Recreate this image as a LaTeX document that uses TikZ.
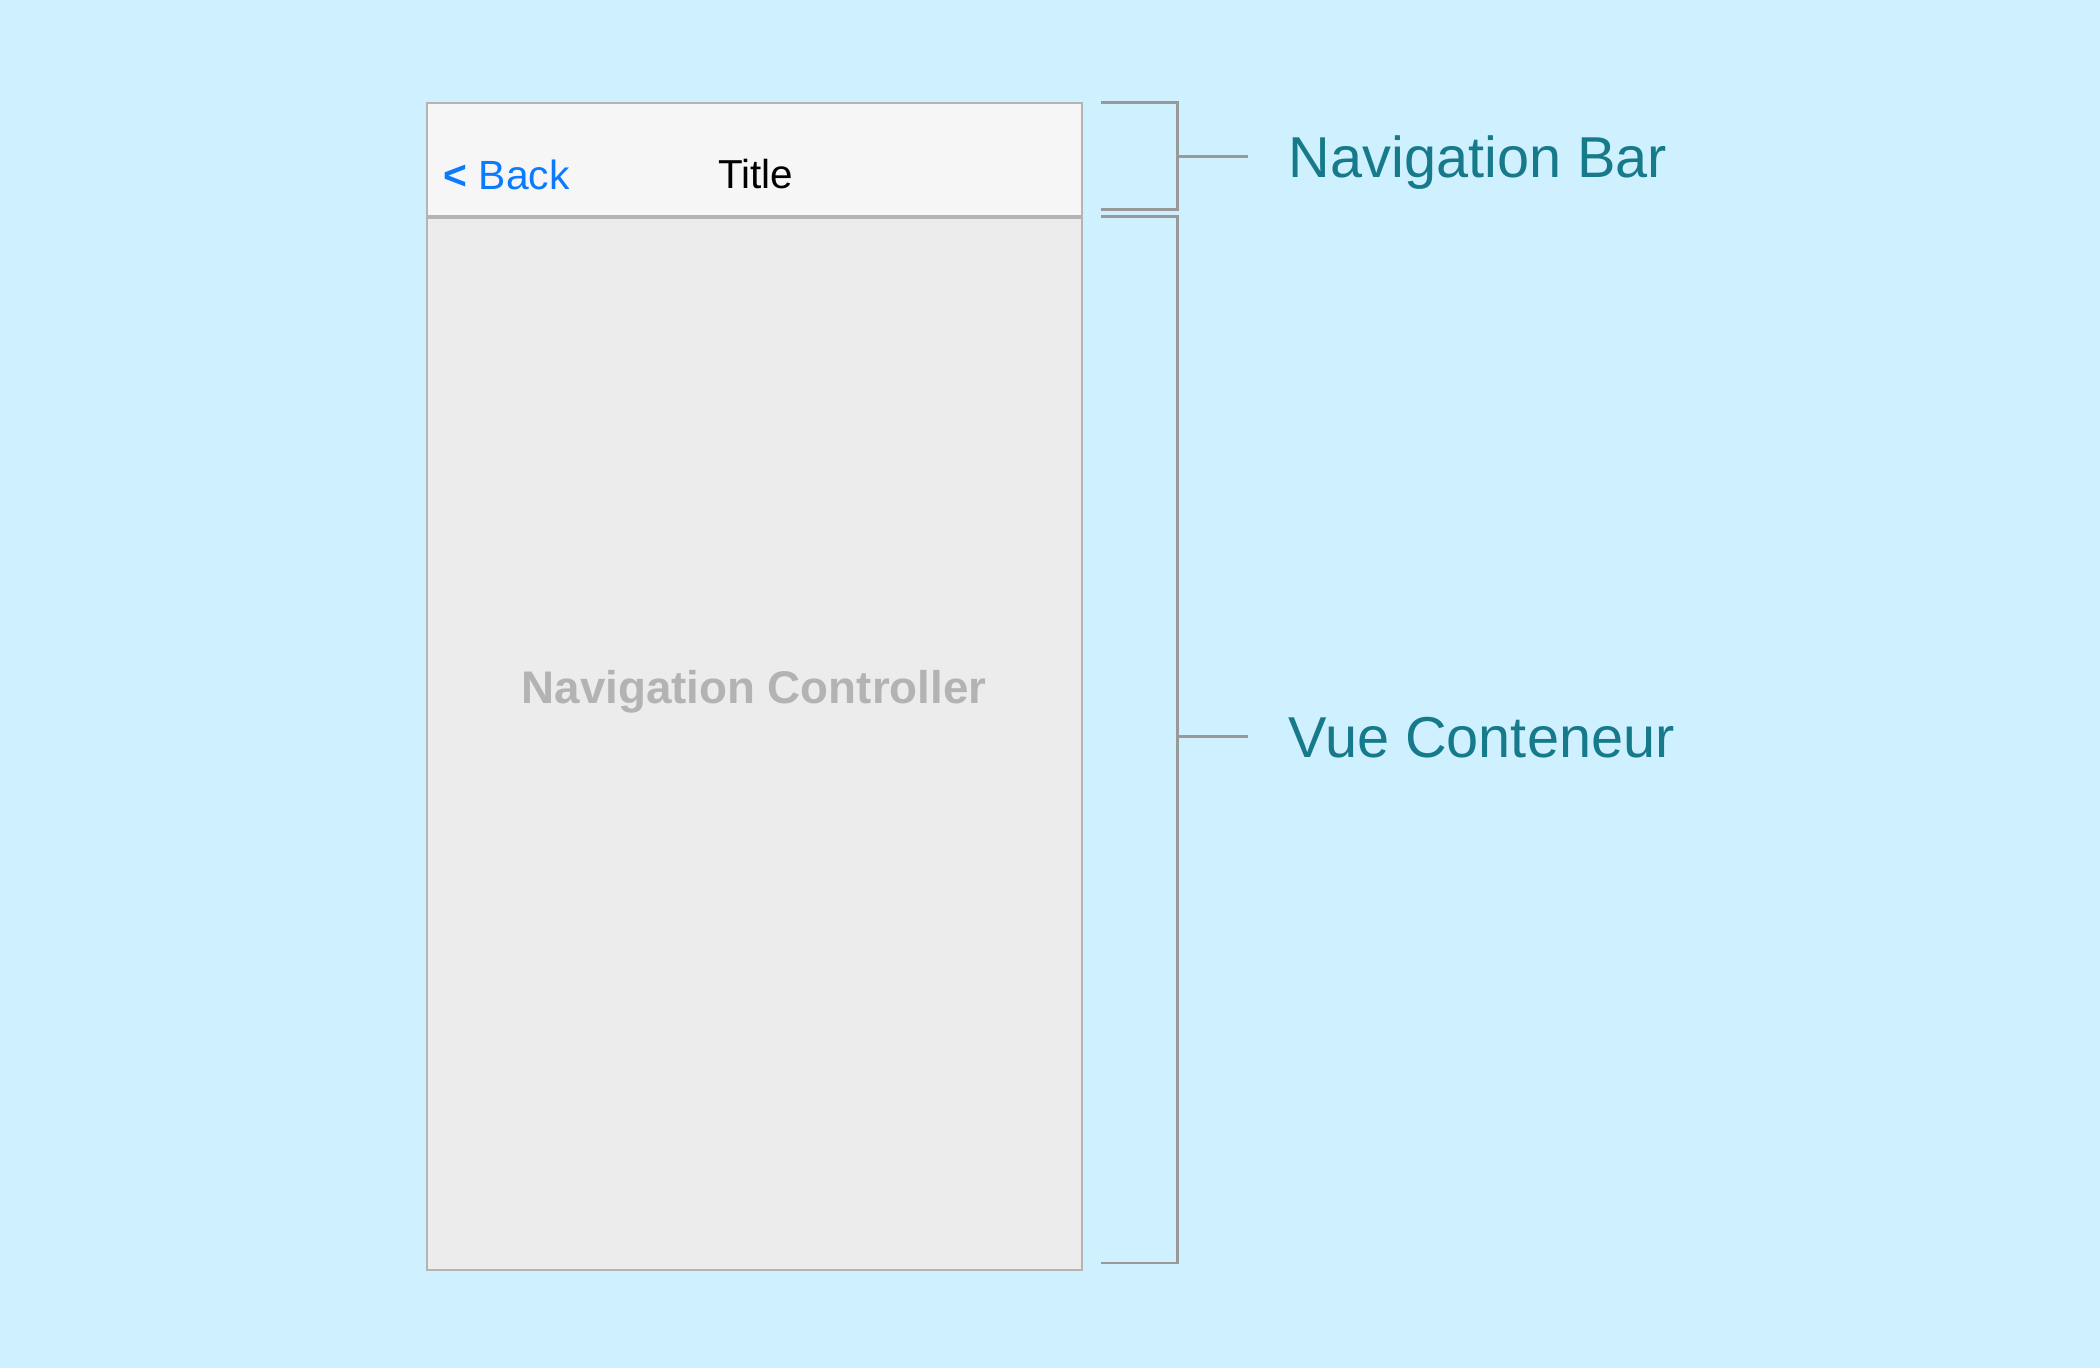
\documentclass[tikz,border=0pt]{standalone}
\usepackage{fontspec}
\setmainfont{Liberation Sans}
\usepackage{tikz}
\usetikzlibrary{positioning}
\usepackage{xcolor}
\definecolor{skyback}{RGB}{207,240,254}
\definecolor{barfill}{RGB}{246,246,246}
\definecolor{bodyfill}{RGB}{236,236,236}
\definecolor{framegray}{RGB}{180,180,180}
\definecolor{bracketgray}{RGB}{153,153,153}
\definecolor{callteal}{RGB}{23,122,138}
\definecolor{backblue}{RGB}{10,122,255}
\definecolor{hintgray}{RGB}{179,179,179}

\begin{document}
\begin{tikzpicture}[%
    x=0.01cm,
    y=-0.01cm,
    node distance=1cm,
    phonepart/.style={%
      rectangle,
      draw=framegray,
      line width=0.6pt,
      minimum width=6.55cm,
      inner sep=0pt
    },
    bracket/.style={draw=bracketgray, line width=0.85pt},
    calltext/.style={%
      inner sep=0pt,
      text=callteal,
      font=\fontsize{16.4}{19}\selectfont,
      text height=0.72em,
      text depth=0pt,
      yshift=-0.08cm
    }
  ]
    \fill[skyback] (0,0) rectangle (2100,1368);

    % phone screen
    \node[phonepart, fill=barfill, minimum height=1.13cm] (navbar) at (754.5,159.5) {};
    \node[phonepart, fill=bodyfill, minimum height=10.51cm, below=0cm of navbar] (content) {};

    \node[anchor=base west, inner sep=0pt, text=backblue, font=\fontsize{11.6}{14}\selectfont] (back) at (443,190) {{\bfseries <} Back};
    \node[anchor=base, inner sep=0pt, font=\fontsize{11.5}{14}\selectfont] (title) at (756,189) {Title};
    \node[anchor=base, inner sep=0pt, text=hintgray, font=\bfseries\fontsize{13}{16}\selectfont] (ctrl) at (754,704) {Navigation Controller};

    % brackets
    \coordinate (nbtop) at (1101,103);
    \coordinate (nbtopc) at (1177,103);
    \coordinate (nbbotc) at (1177,210);
    \coordinate (nbbot) at (1101,210);
    \coordinate (nbmid) at (1177,156.5);
    \coordinate (vctop) at (1101,217);
    \coordinate (vctopc) at (1177,217);
    \coordinate (vcbotc) at (1177,1263);
    \coordinate (vcbot) at (1101,1263);
    \coordinate (vcmid) at (1177,737);

    \draw[bracket] (nbtop) -- (nbtopc) -- (nbbotc) -- (nbbot);
    \draw[bracket] (vctop) -- (vctopc) -- (vcbotc) -- (vcbot);

    \node[calltext, right=1.11cm of nbmid] (navlabel) {Navigation Bar};
    \node[calltext, right=1.11cm of vcmid] (vuelabel) {Vue Conteneur};

    \draw[bracket] (nbmid) -- ++(71,0);
    \draw[bracket] (vcmid) -- ++(71,0);
  \end{tikzpicture}
\end{document}
